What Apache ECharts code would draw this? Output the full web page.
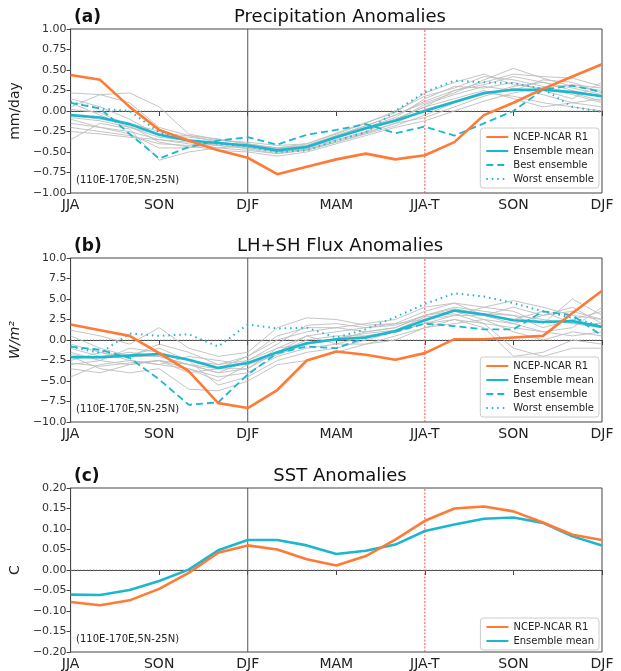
<!DOCTYPE html>
<html><head><meta charset="utf-8">
<script src="https://cdn.jsdelivr.net/npm/echarts@6/dist/echarts.min.js"></script>
<style>html,body{margin:0;padding:0;background:#fff}#c{width:621px;height:671px}</style>
</head><body><div id="c"></div>
<script>
// ---------- data ----------
const months = ['0','1','2','3','4','5','6','7','8','9','10','11','12','13','14','15','16','17','18'];
const seasonTicks = ['JJA','SON','DJF','MAM','JJA-T','SON','DJF'];

// (a) Precipitation (mm/day)
const precipNcep  = [0.44,0.38,0.05,-0.23,-0.36,-0.48,-0.57,-0.77,-0.68,-0.59,-0.52,-0.59,-0.54,-0.38,-0.05,0.10,0.27,0.42,0.57];
const precipMean  = [-0.05,-0.08,-0.16,-0.29,-0.36,-0.39,-0.42,-0.48,-0.44,-0.32,-0.21,-0.12,0.00,0.11,0.22,0.26,0.26,0.23,0.18];
const precipBest  = [0.10,0.03,-0.28,-0.58,-0.44,-0.36,-0.32,-0.41,-0.29,-0.23,-0.16,-0.27,-0.19,-0.30,-0.15,0.00,0.26,0.31,0.23];
const precipWorst = [0.11,0.03,0.00,-0.26,-0.36,-0.40,-0.43,-0.50,-0.48,-0.36,-0.26,0.00,0.23,0.37,0.35,0.34,0.27,0.05,-0.01];
const precipMembers = [
  [0.22,0.20,0.22,0.05,-0.28,-0.35,-0.40,-0.45,-0.42,-0.30,-0.18,-0.05,0.10,0.22,0.38,0.52,0.40,0.30,0.25],
  [0.05,0.20,0.10,-0.20,-0.30,-0.38,-0.42,-0.50,-0.45,-0.35,-0.25,-0.10,0.05,0.25,0.35,0.45,0.42,0.40,0.30],
  [-0.10,-0.20,-0.25,-0.35,-0.40,-0.45,-0.48,-0.52,-0.48,-0.38,-0.28,-0.18,-0.05,0.10,0.20,0.30,0.35,0.28,0.20],
  [-0.35,-0.15,-0.22,-0.60,-0.50,-0.45,-0.42,-0.50,-0.46,-0.30,-0.20,-0.10,0.05,0.15,0.25,0.15,0.05,0.10,0.15],
  [-0.20,-0.25,-0.30,-0.40,-0.42,-0.48,-0.50,-0.55,-0.50,-0.40,-0.30,-0.20,-0.12,0.00,0.12,0.22,0.28,0.32,0.28],
  [0.15,0.05,-0.10,-0.30,-0.32,-0.36,-0.38,-0.42,-0.40,-0.28,-0.15,0.00,0.18,0.28,0.42,0.38,0.30,0.22,0.12],
  [-0.05,-0.10,-0.15,-0.25,-0.35,-0.40,-0.44,-0.48,-0.44,-0.33,-0.22,-0.12,0.08,0.20,0.30,0.25,0.38,0.35,0.22],
  [-0.15,-0.20,-0.28,-0.45,-0.45,-0.42,-0.45,-0.50,-0.47,-0.36,-0.26,-0.15,-0.08,0.05,0.18,0.28,0.20,0.10,0.05],
  [0.10,-0.05,-0.20,-0.28,-0.30,-0.34,-0.40,-0.46,-0.43,-0.32,-0.20,-0.08,0.15,0.30,0.28,0.35,0.25,0.15,0.35],
  [-0.25,-0.28,-0.32,-0.35,-0.38,-0.42,-0.46,-0.52,-0.47,-0.38,-0.27,-0.15,0.02,0.12,0.22,0.18,0.10,0.05,0.00],
  [-0.08,-0.12,-0.20,-0.32,-0.36,-0.39,-0.43,-0.47,-0.42,-0.30,-0.18,-0.05,0.12,0.25,0.32,0.42,0.35,0.25,0.18],
  [0.02,-0.02,-0.18,-0.38,-0.44,-0.40,-0.41,-0.45,-0.40,-0.27,-0.14,-0.02,0.22,0.35,0.45,0.32,0.28,0.20,0.10]
];

// (b) LH+SH flux (W/m2)
const fluxNcep  = [1.9,1.2,0.5,-1.6,-3.8,-7.7,-8.3,-6.1,-2.5,-1.4,-1.8,-2.4,-1.6,0.1,0.1,0.3,0.5,3.3,6.0];
const fluxMean  = [-2.1,-2.1,-1.9,-1.7,-2.4,-3.4,-2.8,-1.5,-0.4,0.1,0.3,1.1,2.4,3.6,3.1,2.4,2.2,2.3,1.6];
const fluxBest  = [-0.8,-1.2,-2.2,-4.8,-7.9,-7.6,-4.2,-1.6,-0.8,-1.0,0.3,1.0,2.0,1.7,1.3,1.3,3.5,3.0,0.5];
const fluxWorst = [-0.8,-1.6,0.8,0.5,0.7,-0.8,1.9,1.4,1.5,0.3,1.3,2.8,4.4,5.7,5.3,4.5,3.5,2.7,1.7];
const fluxMembers = [
  [1.2,0.5,-0.5,1.5,-1.0,-2.0,-1.5,1.5,2.7,2.5,1.8,2.0,2.5,3.0,4.0,4.8,4.0,3.0,2.5],
  [-1.0,-2.0,-1.5,-2.0,-3.0,-4.0,-3.5,-1.0,0.5,1.0,1.5,2.0,3.5,4.5,4.0,3.5,2.0,5.0,3.0],
  [-4.5,-3.0,-2.5,-3.0,-3.5,-4.5,-4.0,-2.0,-1.0,-0.5,0.5,1.0,2.0,3.0,3.0,2.0,1.0,0.5,1.0],
  [-2.0,-3.5,-4.0,-3.5,-6.0,-6.2,-5.0,-3.0,-2.5,-1.5,-0.5,0.5,1.5,2.5,2.0,-1.0,-2.0,-1.0,-1.0],
  [-1.5,-2.5,-1.0,-1.5,-2.5,-5.5,-4.5,-2.5,-1.5,-1.0,0.0,1.0,2.5,3.5,3.0,2.5,3.5,2.0,2.0],
  [0.5,-1.0,-2.0,-0.5,-1.5,-3.0,-2.0,0.5,1.5,1.5,1.0,1.5,3.0,4.0,3.5,3.0,1.5,2.5,3.5],
  [-3.0,-2.5,-3.0,-2.5,-4.0,-3.5,-3.5,-1.5,0.0,0.5,0.5,1.0,2.0,2.5,1.5,-2.0,-1.5,0.0,-0.5],
  [-2.5,-1.5,-2.0,-2.0,-3.0,-4.0,-2.5,-1.0,-0.5,0.0,1.0,1.5,3.0,3.5,2.5,2.0,3.0,4.0,2.0],
  [-0.5,-1.5,-2.5,-3.0,-2.0,-2.5,-3.0,-1.5,0.5,-0.5,-0.5,0.0,1.5,2.0,2.5,1.0,0.0,1.0,0.5],
  [-3.5,-4.0,-3.0,-2.5,-3.0,-3.5,-2.0,0.0,1.0,1.5,2.0,2.5,4.0,4.5,3.0,4.0,3.0,3.5,2.5],
  [-1.8,-2.2,-1.8,-1.0,-2.5,-3.0,-2.5,-0.5,1.8,2.0,1.5,1.8,3.0,3.8,3.2,3.0,2.5,2.0,1.5],
  [-2.8,-3.2,-2.8,-2.5,-3.5,-5.0,-3.0,-1.8,-0.5,0.2,0.8,1.2,2.8,3.2,2.0,1.5,1.0,1.5,4.0]
];

// (c) SST (C)
const sstNcep = [-0.078,-0.086,-0.074,-0.046,-0.007,0.042,0.060,0.050,0.026,0.011,0.034,0.074,0.120,0.150,0.155,0.143,0.116,0.086,0.073];
const sstMean = [-0.060,-0.061,-0.049,-0.027,0.001,0.048,0.073,0.073,0.060,0.039,0.047,0.062,0.095,0.111,0.125,0.128,0.115,0.082,0.060];

const panelTitles = ['Precipitation Anomalies','LH+SH Flux Anomalies','SST Anomalies'];
const panelTags = ['(a)','(b)','(c)'];
const regionText = '(110E-170E,5N-25N)';

// ---------- chart ----------
const ORANGE = '#ff7a35', CYAN = '#1ab8cf', GRAY = '#bdbdbd';
const FONT = 'DejaVu Sans';
const tops = [29, 258, 488];
const H = 164, LEFT = 69, RIGHT = 19;
const yCfg = [
  {min:-1, max:1, interval:0.25, dec:2, name:'mm/day'},
  {min:-10, max:10, interval:2.5, dec:1, name:'W/m²'},
  {min:-0.2, max:0.2, interval:0.05, dec:2, name:'C'}
];

const grids = [], xAxes = [], yAxes = [], series = [], titles = [], graphics = [];
tops.forEach((t, i) => {
  grids.push({left: LEFT, right: RIGHT, top: t, height: H, show: true, borderColor: '#444', borderWidth: 1, backgroundColor: 'transparent'});
  xAxes.push({
    type: 'category', gridIndex: i, data: months, boundaryGap: false,
    axisLine: {show: true, lineStyle: {color: '#444'}},
    axisTick: {show: true, interval: 2, length: 5, lineStyle: {color: '#444'}},
    axisLabel: {interval: 2, color: '#222', fontFamily: FONT, fontSize: 14, margin: 5,
      formatter: (v, idx) => seasonTicks[Math.round(idx / 3)] || ''},
    splitLine: {show: false}
  });
  const c = yCfg[i];
  yAxes.push({
    type: 'value', gridIndex: i, min: c.min, max: c.max, interval: c.interval,
    name: c.name, nameLocation: 'middle', nameGap: i === 1 ? 38 : 40, nameRotate: 90,
    nameTextStyle: {color: '#222', fontFamily: FONT, fontSize: 14, fontStyle: i === 1 ? 'italic' : 'normal'},
    axisLine: {show: true, lineStyle: {color: '#444'}},
    axisTick: {show: true, length: 4, lineStyle: {color: '#444'}},
    axisLabel: {color: '#333', fontFamily: FONT, fontSize: 11, margin: 4,
      formatter: v => (v < 0 ? '\u2212' : '') + Math.abs(v).toFixed(c.dec)},
    splitLine: {show: false}
  });
  titles.push({text: panelTags[i], left: LEFT, top: t - 25, textStyle: {fontFamily: FONT, fontSize: 17, fontWeight: 'bold', color: '#111'}});
  titles.push({text: panelTitles[i], left: 335, textAlign: 'center', top: t - 26, textStyle: {fontFamily: FONT, fontSize: 18, fontWeight: 'normal', color: '#111'}});
  graphics.push({type: 'text', left: LEFT + 7, top: t + H - 18, style: {text: regionText, font: '10px "DejaVu Sans"', fill: '#222'}});
});

function addLine(name, data, gi, color, width, type, z) {
  series.push({name, type: 'line', xAxisIndex: gi, yAxisIndex: gi, data, symbol: 'none', showSymbol: false, smooth: false,
    lineStyle: {color, width, type}, itemStyle: {color}, color, z, animation: false, silent: true});
}
function refLines(gi) {
  const c = yCfg[gi];
  addLine('ref0', [[months[0], 0], [months[18], 0]], gi, '#999999', 1, [1.2, 2], 1);
  addLine('refDJF', [[months[6], c.min], [months[6], c.max]], gi, '#555555', 1, 'solid', 1);
  addLine('refJJAT', [[months[12], c.min], [months[12], c.max]], gi, '#ff4d4d', 1, [2, 1.5], 1);
}

// panel a
refLines(0);
precipMembers.forEach((m, k) => addLine('memberA' + k, m, 0, GRAY, 0.9, 'solid', 2));
addLine('Best ensemble', precipBest, 0, CYAN, 1.8, [7, 4], 3);
addLine('Worst ensemble', precipWorst, 0, CYAN, 2, [1.5, 4], 3);
addLine('Ensemble mean', precipMean, 0, CYAN, 2.6, 'solid', 4);
addLine('NCEP-NCAR R1', precipNcep, 0, ORANGE, 2.6, 'solid', 5);
// panel b
refLines(1);
fluxMembers.forEach((m, k) => addLine('memberB' + k, m, 1, GRAY, 0.9, 'solid', 2));
addLine('Best ensemble', fluxBest, 1, CYAN, 1.8, [7, 4], 3);
addLine('Worst ensemble', fluxWorst, 1, CYAN, 2, [1.5, 4], 3);
addLine('Ensemble mean', fluxMean, 1, CYAN, 2.6, 'solid', 4);
addLine('NCEP-NCAR R1', fluxNcep, 1, ORANGE, 2.6, 'solid', 5);
// panel c
refLines(2);
addLine('Ensemble mean', sstMean, 2, CYAN, 2.6, 'solid', 4);
addLine('NCEP-NCAR R1', sstNcep, 2, ORANGE, 2.6, 'solid', 5);

const full = ['NCEP-NCAR R1', 'Ensemble mean', 'Best ensemble', 'Worst ensemble'];
function mkLegend(top, names) {
  return {show: true, orient: 'vertical', right: 22, top, itemWidth: 22, itemHeight: 10, itemGap: 4,
    backgroundColor: '#fff', borderColor: '#ccc', borderWidth: 1, borderRadius: 3, padding: [4, 5, 4, 5],
    itemStyle: {opacity: 0, borderWidth: 0},
    textStyle: {fontFamily: FONT, fontSize: 10, color: '#222'}, selectedMode: false, data: names, z: 10};
}
const legends = [mkLegend(tops[0] + 99, full), mkLegend(tops[1] + 99, full), mkLegend(tops[2] + 130, full.slice(0, 2))];

const chart = echarts.init(document.getElementById('c'), null, {renderer: 'canvas'});
chart.setOption({
  animation: false, backgroundColor: '#fff',
  title: titles, grid: grids, xAxis: xAxes, yAxis: yAxes, series, legend: legends, graphic: graphics
});
</script></body></html>
